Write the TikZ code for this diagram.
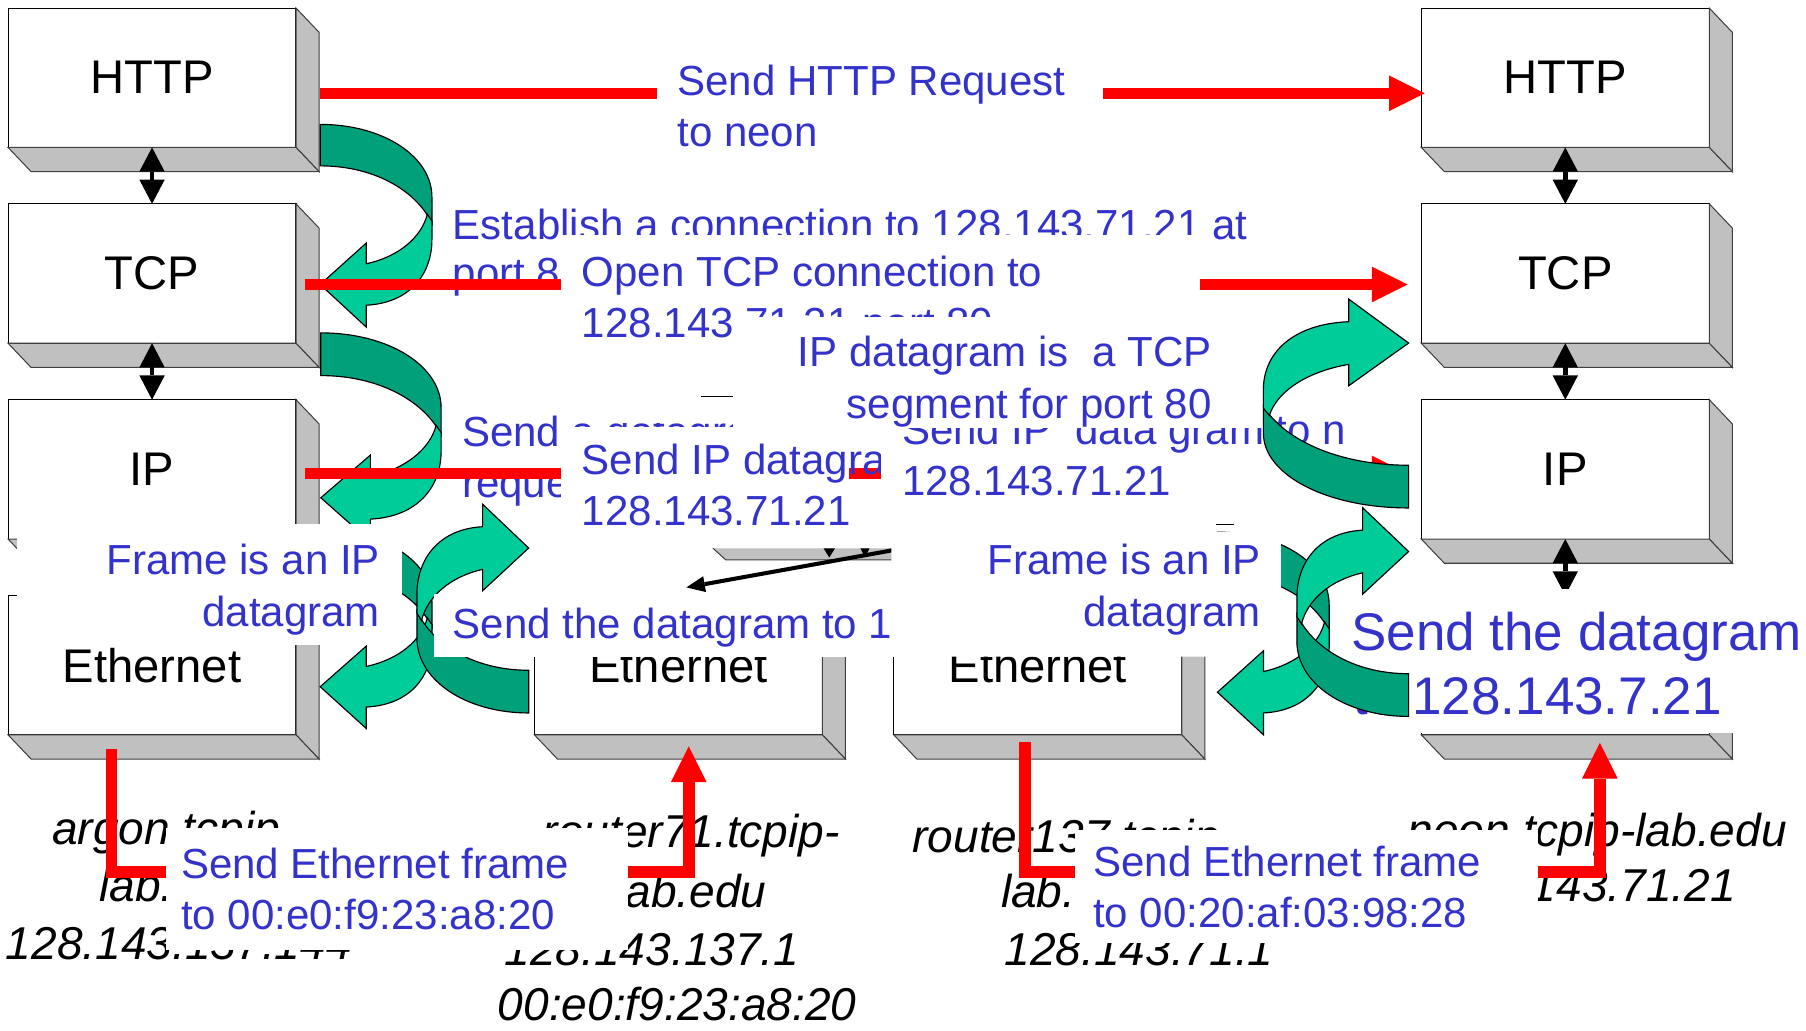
\documentclass[tikz,border=0pt]{standalone}
\usepackage{fontspec}
\setmainfont{Liberation Sans}
\usetikzlibrary{arrows.meta}

\definecolor{txtblue}{RGB}{51,51,204}
\definecolor{ribbonlight}{RGB}{0,204,153}
\definecolor{ribbondark}{RGB}{0,160,122}
\definecolor{sidegrey}{RGB}{192,192,192}
\definecolor{flowred}{RGB}{255,0,0}

\tikzset{
  stackbox/.style={draw=black, line width=0.9pt, fill=white, minimum width=250pt,
    minimum height=121pt, inner sep=0pt, outer sep=0pt, font=\fontsize{41}{49}\selectfont},
  depthface/.style={draw=black!75, line width=0.9pt, fill=sidegrey},
  updown/.style={{Triangle[length=21pt,width=22pt,line width=0pt]}-{Triangle[length=21pt,width=22pt,line width=0pt]}, line width=4pt},
  redflow/.style={draw=flowred, line width=10pt, -{Triangle[length=31pt,width=31pt,line width=0pt]}},
  ribdark/.style={fill=ribbondark, draw=black, line width=1pt},
  riblight/.style={fill=ribbonlight, draw=black, line width=1pt},
  cover/.style={fill=white},
  btxt/.style={text=txtblue, font=\fontsize{36.5}{44}\selectfont, inner sep=0pt, anchor=base west},
  bigtxt/.style={text=txtblue, font=\fontsize{46}{55}\selectfont, inner sep=0pt, anchor=base west},
  host/.style={font=\itshape\fontsize{40}{48}\selectfont, inner sep=0pt, anchor=base west},
}

% a protocol layer drawn as a block with grey right and bottom faces
\newcommand\layerbox[4]{%
  \node[stackbox] (#1) at (#2,#3) {#4};
  \filldraw[depthface] (#1.north east) -- ++(20,21) -- ++(0,121) -- (#1.south east) -- cycle;
  \filldraw[depthface] (#1.south west) -- ++(20,21) -- ++(250,0) -- (#1.south east) -- cycle;
}

% curved ribbon arrow: dark back half, light front half with the head
\newcommand\ribbon[4]{%
  \begin{scope}[shift={(#1,#2)},xscale=#3,yscale=#4]
    \filldraw[ribdark] (0,0) .. controls (55,0) and (97,28) .. (97,63) -- (97,86)
      .. controls (85,60) and (50,36) .. (0,36) -- cycle;
    \filldraw[riblight] (93,78) -- (97,84) -- (97,100) .. controls (97,130) and (78,155) .. (40,157)
      -- (40,176) -- (0,139) -- (40,103) -- (40,121) .. controls (68,115) and (88,98) .. (93,78) -- cycle;
  \end{scope}}

\begin{document}
\begin{tikzpicture}[x=1pt,y=-1pt]
\useasboundingbox (0,0) rectangle (1568,895);
\fill[white] (0,0) rectangle (1568,895);

% protocol stacks
\layerbox{lhttp}{132}{67.5}{HTTP}
\layerbox{ltcp}{132}{237.5}{TCP}
\layerbox{lip}{132}{407.5}{IP}
\layerbox{leth}{132}{577.5}{Ethernet}
\layerbox{rhttp}{1359}{67.5}{HTTP}
\layerbox{rtcp}{1359}{237.5}{TCP}
\layerbox{rip}{1359}{407.5}{IP}
\layerbox{reth}{1359}{577.5}{Ethernet}
\layerbox{metha}{589}{577.5}{Ethernet}
\layerbox{methb}{901}{577.5}{Ethernet}

\draw[updown] (lhttp.south) -- (ltcp.north);
\draw[updown] (ltcp.south) -- (lip.north);
\draw[updown] (lip.south) -- (leth.north);
\draw[updown] (rhttp.south) -- (rtcp.north);
\draw[updown] (rtcp.south) -- (rip.north);
\draw[updown] (rip.south) -- (reth.north);

% host names under the Ethernet blocks
\node[host] (argon1) at (45,733) {argon.tcpip-};
\node[host] (argon2) at (86,783) {lab.edu};
\node[host] (argon3) at (5,833) {128.143.137.144};
\node[host] (rta1) at (471,736) {router71.tcpip-};
\node[host] (rta2) at (534,788) {lab.edu};
\node[host] (rta3) at (438,838) {128.143.137.1};
\node[host] (rta4) at (432,886) {00:e0:f9:23:a8:20};
\node[host] (rtb1) at (792,740) {router137.tcpip-};
\node[host] (rtb2) at (869,788) {lab.edu};
\node[host] (rtb3) at (872,838) {128.143.71.1};
\node[host] (neon1) at (1222,735) {neon.tcpip-lab.edu};
\node[host] (neon2) at (1251,783) {128.143.71.21};

% frames on the wire
\draw[redflow] ([xshift=-35pt,yshift=-12pt]leth.south) -- ++(0,107) -| ([xshift=9pt,yshift=-10pt]metha.south);
\draw[redflow] ([xshift=-11pt,yshift=-6pt]methb.south) -- ++(0,113) -| ([xshift=30pt,yshift=-7pt]reth.south);

% HTTP level
\draw[redflow] ([xshift=21pt,yshift=-13.5pt]lhttp.east) -- ([xshift=3pt,yshift=-13.5pt]rhttp.west);
\ribbon{278}{108}{1}{1}
\fill[cover] (570,38) rectangle (958,140);
\node[btxt] (req1) at (588,83) {Send HTTP Request};
\node[btxt] (req2) at (588,127) {to neon};
\node[btxt] (est1) at (393,208) {Establish a connection to 128.143.71.21 at};
\node[btxt] (est2) at (393,250) {port 80};

% TCP level
\draw[redflow] ([xshift=8pt,yshift=-9.5pt]ltcp.east) -- ([xshift=-12pt,yshift=-9.5pt]rtcp.west);
\ribbon{278.5}{289}{1.077}{1.03}
\node[btxt] (sda1) at (401,388) {Send a datagram to};
\node[btxt] (sda2) at (401,432) {request};

% IP level
\draw[redflow] ([xshift=8pt,yshift=-3.5pt]lip.east) -- ([xshift=-12pt,yshift=-3.5pt]rip.west);
\fill[cover] (487,204) rectangle (1042,367);
\node[btxt] (open1) at (505,249) {Open TCP connection to};
\node[btxt] (open2) at (505,293) {128.143.71.21 port 80};
\fill[cover] (487,371) rectangle (737,476);
\node[btxt] (ipa1) at (505,412) {Send IP datagram to};
\node[btxt] (ipa2) at (505,456) {128.143.71.21};
\fill[cover] (765,360) rectangle (1190,476);
\node[btxt] (ipb1) at (783,386) {Send IP\ \ data gram to n};
\node[btxt] (ipb2) at (783,430) {128.143.71.21};
\fill[cover] (636,275) rectangle (1095,372);
\node[btxt,anchor=base east] (seg1) at (1052,318) {IP datagram is\ \ a TCP};
\node[btxt,anchor=base east] (seg2) at (1052,363) {segment for port 80};
\draw[line width=0.9pt] (609,344) -- (636,344);
\draw[line width=0.9pt] (1056,455) -- (1071,455);

% router IP layer, bottom face
\fill[sidegrey] (619,476) -- (779,476) -- (779,486) -- (630,486) -- cycle;
\draw[line width=0.9pt, black!75] (619,476) -- (630,486) -- (779,486);
\fill (715,476) -- (725,476) -- (720,484) -- cycle;
\fill (747,476) -- (755,476) -- (751,484) -- cycle;
\coordinate (hopa) at (779,477);
\coordinate (hopb) at (596,510);
\draw[line width=3.5pt, -{Triangle[length=16pt,width=14pt,line width=0pt]}] (hopa) -- (hopb);

\ribbon{1223}{441}{-1.3}{-1.03}
\ribbon{278}{460}{1}{0.98}
\ribbon{459}{619}{-1}{-1.03}

% Ethernet level
\fill[cover] (15,455) rectangle (349,560);
\node[btxt,anchor=base east] (fra1) at (330,499) {Frame is an IP};
\node[btxt,anchor=base east] (fra2) at (330,544) {datagram};
\fill[cover] (377,516) rectangle (778,570);
\node[btxt] (fwd1) at (393,554) {Send the datagram to 128.143.71.21};
\ribbon{1057}{462}{1}{1}
\fill[cover] (774,462) -- (1112,462) -- (1112,555) -- (1090,555) -- (1090,570) -- (774,570) -- cycle;
\node[btxt,anchor=base east] (frb1) at (1095,499) {Frame is an IP};
\node[btxt,anchor=base east] (frb2) at (1095,544) {datagram};
\fill[cover] (1160,511) rectangle (1568,636);
\node[bigtxt] (fwd2) at (1173,565) {Send the datagram};
\node[bigtxt] (fwd3) at (1175,620) {to 128.143.7.21};
\ribbon{1223}{622}{-1}{-1.03}

% frame labels
\fill[cover] (144,719) rectangle (545,825);
\node[btxt] (etha1) at (157,763) {Send Ethernet frame};
\node[btxt] (etha2) at (157,807) {to 00:e0:f9:23:a8:20};
\fill[cover] (933,721) rectangle (1335,819);
\node[btxt] (ethb1) at (949,761) {Send Ethernet frame};
\node[btxt] (ethb2) at (949,805) {to 00:20:af:03:98:28};
\end{tikzpicture}
\end{document}
